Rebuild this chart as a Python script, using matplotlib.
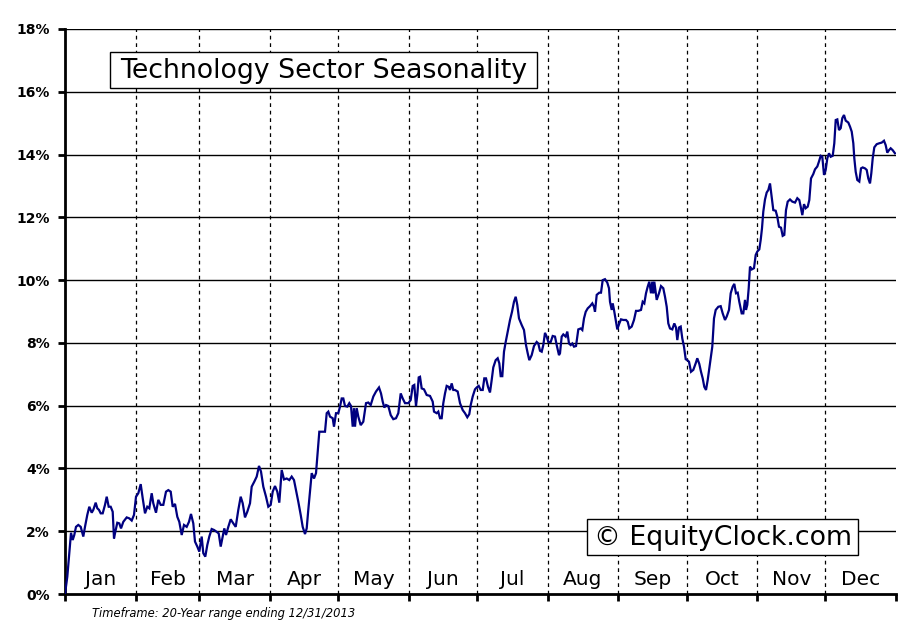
import matplotlib
matplotlib.use("Agg")
import matplotlib.pyplot as plt
from matplotlib.patches import Rectangle

# ---- data (day of year, cumulative seasonal return in %) ----
days = [0, 1.01, 1.89, 2.64, 3.38, 4.08, 4.83, 5.84, 6.9, 8.04, 8.78, 9.79, 10.67, 11.73, 12.43,
        13.48, 14.19, 14.93, 15.68, 16.56, 17.57, 18.32, 19.19, 20.07, 20.95, 21.52, 22.09, 22.97,
        23.85, 24.6, 25.61, 27.1, 28.24, 29.3, 30.31, 31.19, 32.2, 33.25, 34.13, 35.14, 36.15,
        37.03, 38.08, 38.78, 39.97, 40.98, 42.03, 43.18, 44.36, 45.37, 46.43, 47.3, 48.32, 49.33,
        50.2, 51.26, 52.27, 53.45, 54.46, 55.34, 56.35, 57.1, 58.11, 58.99, 60.04, 60.74, 61.62,
        62.5, 63.38, 64.43, 65.45, 66.63, 67.51, 68.39, 69.27, 69.97, 70.72, 71.73, 72.78, 73.92,
        74.98, 76.12, 77.17, 78.05, 79.06, 80.07, 81.26, 82.0, 83.15, 84.2, 85.21, 86.09, 87.1,
        88.29, 89.3, 90.35, 91.23, 92.24, 93.25, 94.13, 95.18, 96.19, 97.38, 98.52, 99.57, 100.58,
        101.46, 102.47, 103.53, 104.4, 105.42, 106.16, 106.86, 107.61, 108.36, 109.37, 110.25,
        110.82, 111.7, 112.75, 114.2, 114.95, 115.65,
        116.4, 117.58, 118.15, 119.03, 120.04, 120.79, 121.53, 122.24, 122.98, 123.99, 124.87,
        125.62, 126.37, 126.94, 127.38, 128.12, 128.83, 129.88, 131.02, 132.21, 133.22, 134.27,
        135.42, 136.6, 137.92, 138.8, 139.54, 140.25, 140.99, 142.0, 143.06, 144.2, 145.39, 146.4,
        147.45, 148.33, 149.34, 150.79, 151.84, 152.72, 153.42, 154.17, 154.74, 155.36, 155.93,
        156.67, 157.68, 158.87, 160.32, 161.5, 162.08, 163.26, 163.96, 164.71, 165.45, 166.16,
        166.91, 167.65, 168.53, 169.1, 169.85, 170.55, 171.3, 172.48, 173.5, 174.68, 175.69,
        176.7, 177.58, 178.2, 179.07, 180.08, 180.83, 181.71, 182.59, 183.47, 184.17, 184.92,
        185.79, 186.67, 187.42, 188.12, 189.17, 190.05, 190.76, 191.37, 192.08, 192.82, 193.57,
        194.45, 195.46, 196.34, 197.21, 197.96, 198.66, 199.41, 200.59, 201.6, 202.48, 203.23,
        203.93, 204.98, 205.99, 207.18, 207.88, 208.63, 209.38, 210.08, 210.83, 211.57, 212.28,
        213.33, 214.21, 215.22, 215.97, 216.97,
        217.42, 218.16, 218.87, 219.92, 220.63, 221.37, 222.12, 222.82, 223.57, 224.45, 225.46,
        226.51, 227.22, 227.96, 228.71, 229.59, 230.6, 231.61, 232.35, 232.79, 233.54, 234.68,
        235.43, 236.17, 237.18, 238.19, 238.94, 239.38, 240.13, 240.57, 241.14, 241.89, 242.59,
        243.47, 244.22, 245.23, 246.41, 247.16, 247.86, 248.91, 249.92, 250.8, 251.81, 253.0,
        253.74, 254.45, 255.19, 255.94, 256.64, 257.39, 257.96, 258.4, 258.84, 259.89, 260.9,
        261.78, 262.79, 263.54, 264.29, 264.99, 265.73, 266.74, 267.62, 268.37, 268.94, 269.69,
        270.43, 271.14, 271.88, 272.63, 273.33, 274.08, 274.96, 275.97, 277.02, 277.72, 278.6,
        279.35, 280.1, 280.8, 281.55, 282.3, 283.0,
        283.61, 284.31, 285.06, 285.81, 286.95, 288.0, 288.88, 289.89, 290.64, 291.65, 292.39,
        293.27, 293.98, 294.72, 295.47, 296.17, 297.22, 297.93, 298.68, 299.11, 299.68, 300.3,
        300.87, 301.62, 302.63, 303.37, 304.08, 304.96, 305.57, 306.14, 306.71, 307.46, 308.2,
        308.91, 309.66, 310.4, 311.11, 312.16, 312.86, 313.61, 314.49, 315.23, 315.94, 316.68,
        317.43, 318.44, 319.45, 320.64, 321.65, 322.53, 323.14, 323.85, 324.6, 325.34, 326.22,
        326.92, 327.67, 328.68, 329.43, 330.44, 331.18, 331.93, 332.63, 333.38, 334.12, 334.83,
        335.57, 336.32, 337.2, 337.9, 338.52, 339.22, 339.97, 340.71, 341.42, 342.16, 342.91,
        344.05, 344.8, 345.55, 346.25, 346.69, 347.3, 348.0, 348.88, 349.63, 350.37, 351.38,
        352.13, 352.83, 353.58, 354.15, 354.77, 355.47, 356.52, 357.66, 358.71, 359.72, 360.47,
        361.17, 361.92, 362.66, 363.54, 364.55]

values = [0.0, 0.55, 1.3, 1.95, 1.72, 1.88, 2.14, 2.2, 2.14, 1.83, 2.14, 2.52, 2.78, 2.59, 2.68,
          2.91, 2.73, 2.68, 2.57, 2.57, 2.84, 3.1, 2.78, 2.78, 2.62, 1.77, 1.98, 2.27,
          2.25, 2.09, 2.3, 2.44, 2.41, 2.34, 2.52, 3.1, 3.21, 3.5, 3.05, 2.57, 2.78,
          2.73, 3.21, 2.89, 2.59, 3.0, 2.84, 2.84, 3.26, 3.31, 3.26, 2.78, 2.87, 2.46,
          2.3, 1.88, 2.2, 2.14, 2.3, 2.55, 2.25, 1.67, 1.51, 1.35, 1.83, 1.3, 1.19,
          1.56, 1.83, 2.07, 2.04, 1.98, 1.93, 1.51, 1.83, 2.09, 1.88, 2.14, 2.38, 2.25,
          2.14, 2.68, 3.1, 2.89, 2.44, 2.62, 2.89, 3.42, 3.58, 3.74, 4.08, 3.9, 3.42,
          3.1, 2.78, 2.84, 3.26, 3.44, 3.26, 2.91, 3.95, 3.65, 3.68, 3.63, 3.74, 3.63,
          3.31, 2.94, 2.52, 2.14, 1.91, 2.09, 2.68, 3.26, 3.85, 3.68, 3.85,
          4.37, 5.17, 5.17, 5.17, 5.76, 5.81,
          5.65, 5.6, 5.33, 5.76, 5.76, 5.97, 6.23, 6.23, 5.99, 5.97, 6.08,
          5.99, 5.33, 5.92, 5.33, 5.92, 5.65, 5.38, 5.49, 6.08, 6.1, 6.02,
          6.29, 6.45, 6.58, 6.39, 6.13, 5.94, 6.02, 5.99, 5.7, 5.57, 5.6, 5.76,
          6.39, 6.23, 6.08, 6.08, 6.18, 6.63, 6.66, 5.99, 6.34, 6.9, 6.92,
          6.55, 6.52, 6.34, 6.31, 6.13, 5.81, 5.76, 5.81, 5.6, 5.6, 6.08,
          6.39, 6.63, 6.6, 6.5, 6.71, 6.5, 6.5, 6.45, 6.08, 5.86, 5.76,
          5.63, 5.73, 6.02, 6.29, 6.52, 6.58, 6.63, 6.5, 6.5, 6.87, 6.87,
          6.6, 6.42, 6.82, 7.22, 7.45, 7.51, 7.35, 6.94, 6.94, 7.72, 8.03,
          8.36, 8.73, 8.99, 9.31, 9.47, 9.21, 8.78, 8.57, 8.41, 7.93, 7.67,
          7.45, 7.61, 7.9, 8.03, 7.98, 7.75, 7.72, 7.93, 8.32, 8.2, 8.03,
          8.03, 8.22, 8.2, 7.93, 7.61,
          7.67, 8.2, 8.27, 8.2, 8.36, 7.98, 7.93, 7.98, 7.88, 7.9, 8.43,
          8.46, 8.41, 8.78, 8.99, 9.1, 9.17, 9.26, 9.15, 8.99, 9.53, 9.6,
          9.6, 10.0, 10.03, 9.92, 9.74, 9.31, 9.05, 9.26, 9.05, 8.73, 8.43,
          8.62, 8.75, 8.73, 8.73, 8.67, 8.46, 8.52, 8.73, 9.02, 9.02, 9.05,
          9.31, 9.26, 9.58, 9.79, 9.95, 9.58, 9.95, 9.58, 9.95, 9.37, 9.58,
          9.81, 9.74, 9.47, 9.15, 8.62, 8.46, 8.43, 8.62, 8.49, 8.09, 8.49,
          8.52, 8.14, 7.88, 7.48, 7.45, 7.4, 7.08, 7.14, 7.35, 7.51, 7.33,
          7.08, 6.87, 6.6, 6.5, 6.82, 7.19,
          7.51, 7.88, 8.78, 9.05, 9.15, 9.17, 8.94, 8.73, 8.84, 9.05, 9.58,
          9.79, 9.88, 9.58, 9.6, 9.31, 8.94, 8.94, 9.37, 9.05, 9.21, 9.74,
          10.43, 10.34, 10.38, 10.8, 10.91, 10.98, 11.28, 11.65, 12.18, 12.57, 12.79,
          12.87, 13.08, 12.66, 12.23, 12.21, 12.02, 11.7, 11.67, 11.41, 11.44, 12.23,
          12.5, 12.57, 12.5, 12.47, 12.61, 12.55, 12.34, 12.07, 12.42, 12.29, 12.34,
          12.55, 13.24, 13.38, 13.53, 13.62, 13.78, 13.96, 13.93, 13.35, 13.51, 13.88,
          14.04, 13.93, 13.96, 14.36, 15.1, 15.12, 14.78, 14.84, 15.16, 15.26, 15.08,
          15.02, 14.89, 14.73, 14.36, 13.88, 13.45, 13.19, 13.14, 13.56, 13.59, 13.56,
          13.51, 13.24, 13.08, 13.4, 13.88, 14.23, 14.33, 14.36, 14.38, 14.44, 14.3,
          14.06, 14.14, 14.2, 14.14, 14.04]

month_starts = [0, 31, 59, 90, 120, 151, 181, 212, 243, 273, 304, 334, 365]
month_labels = ["Jan", "Feb", "Mar", "Apr", "May", "Jun", "Jul", "Aug", "Sep", "Oct", "Nov", "Dec"]
y_ticks = [0, 2, 4, 6, 8, 10, 12, 14, 16, 18]
title = "Technology Sector Seasonality"
brand = "\u00a9 EquityClock.com"
footer = "Timeframe: 20-Year range ending 12/31/2013"

W, H = 911, 623
fig = plt.figure(figsize=(W / 100, H / 100), dpi=100)
ax = fig.add_axes([65 / W, 29 / H, (896 - 65) / W, (594 - 29) / H])
ax.set_xlim(0, 365)
ax.set_ylim(0, 18)

# gridlines
for yv in y_ticks[1:]:
    ax.axhline(yv, color="black", lw=1.0, zorder=1)
for xv in month_starts[1:-1]:
    ax.axvline(xv, color="black", lw=0.9, ls=(0, (3, 3)), zorder=1)

ax.plot(days, values, color="#000080", lw=1.6, zorder=3, solid_joinstyle="miter")

for sp in ["top", "right"]:
    ax.spines[sp].set_visible(False)
for sp in ["left", "bottom"]:
    ax.spines[sp].set_linewidth(2)
    ax.spines[sp].set_color("black")

ax.set_yticks(y_ticks)
ax.set_yticklabels([f"{v}%" for v in y_ticks], fontsize=10, fontweight="bold")
ax.set_xticks(month_starts)
ax.set_xticklabels([])
ax.tick_params(axis="both", direction="out", length=5, width=2, color="black")
ax.tick_params(axis="y", pad=6)

for i, lab in enumerate(month_labels):
    cx = (month_starts[i] + month_starts[i + 1]) / 2
    ax.text(cx, 0.46, lab, ha="center", va="center", fontsize=14.5, color="black", zorder=4)


def px_box(x0, y0, x1, y1):
    return Rectangle((x0 / W, 1 - y1 / H), (x1 - x0) / W, (y1 - y0) / H,
                     transform=fig.transFigure, fc="white", ec="black", lw=1, zorder=5)


fig.add_artist(px_box(110, 52, 537, 88))
fig.text(324 / W, 1 - 70.5 / H, title, fontsize=19.3, ha="center", va="center", zorder=6)

fig.add_artist(px_box(587, 519, 858, 555))
fig.text(723 / W, 1 - 538 / H, brand, fontsize=19.3, ha="center", va="center", zorder=6)

fig.text(92 / W, 1 - 613 / H, footer, fontsize=8.3, style="italic", ha="left", va="center")

fig.savefig("out.png", dpi=100)
